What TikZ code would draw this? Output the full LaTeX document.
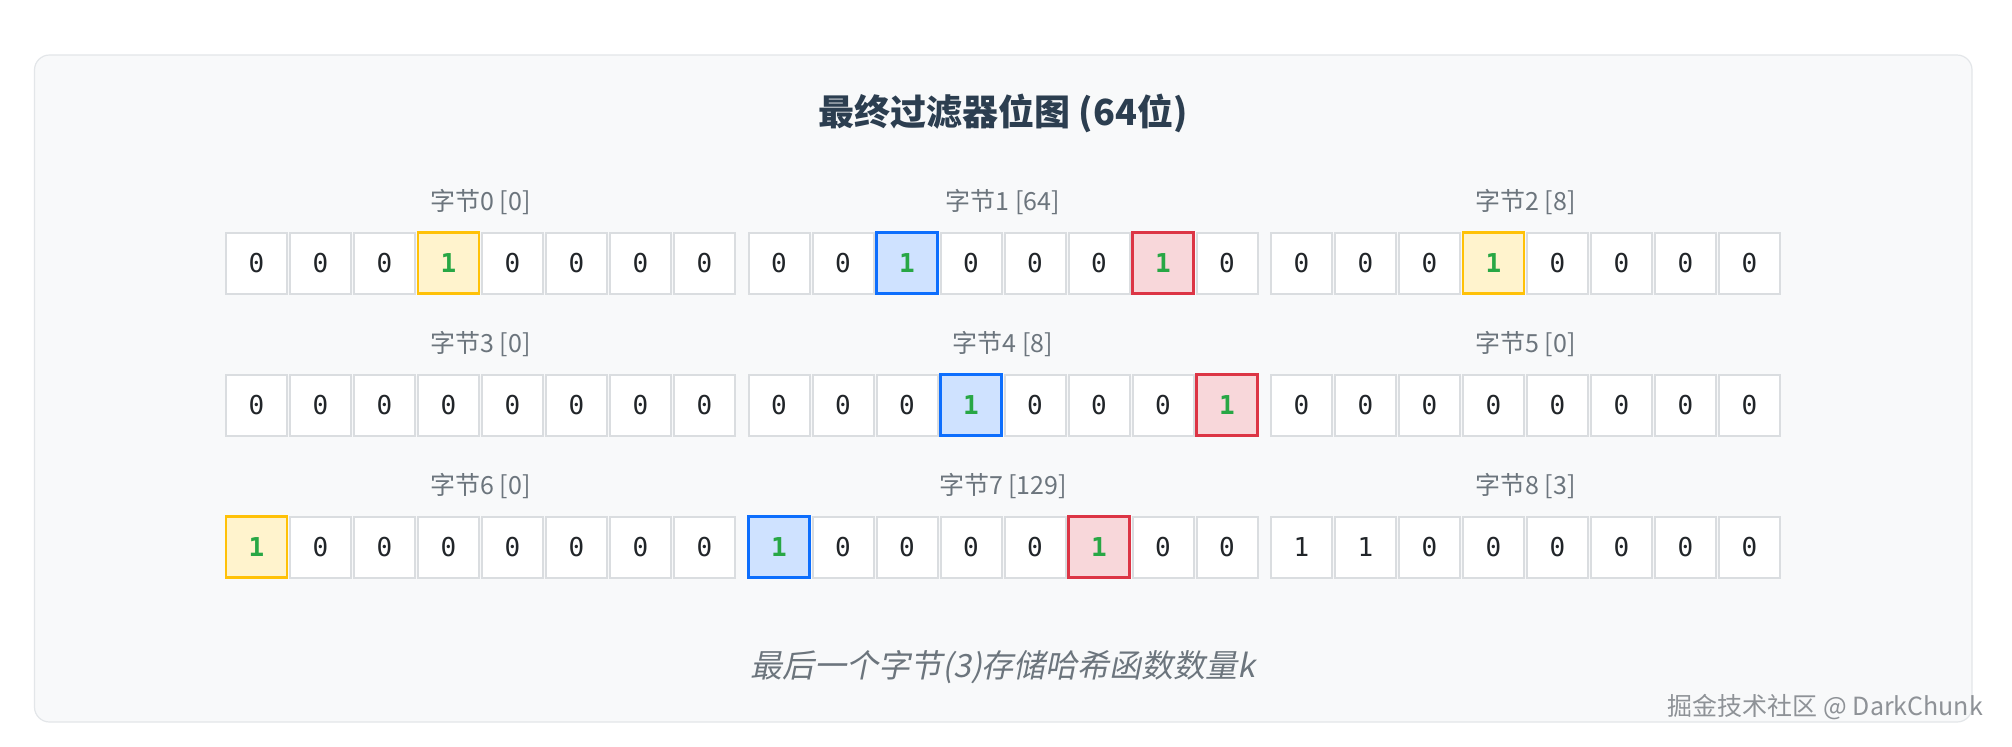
\documentclass[tikz,border=0pt]{standalone}
\usepackage{fontspec}
\setmainfont{Noto Sans CJK SC}
\newfontfamily\notefont{Noto Sans CJK SC}[FakeSlant=0.2]
\newfontfamily\bitfont{DejaVu Sans Mono}

\definecolor{panelbg}{HTML}{F8F9FA}
\definecolor{panelline}{HTML}{E3E6E9}
\definecolor{cellline}{HTML}{DADDE0}
\definecolor{bittext}{HTML}{212529}
\definecolor{titletext}{HTML}{2C3E50}
\definecolor{labeltext}{HTML}{6C757D}
\definecolor{hitgreen}{HTML}{28A745}
\definecolor{yfill}{HTML}{FFF3CD}
\definecolor{yline}{HTML}{FFC107}
\definecolor{bfill}{HTML}{CFE2FF}
\definecolor{bline}{HTML}{0D6EFD}
\definecolor{rfill}{HTML}{F8D7DA}
\definecolor{rline}{HTML}{DC3545}
\definecolor{marktext}{HTML}{8E9297}

\begin{document}
\begin{tikzpicture}[x=0.5pt, y=-0.5pt,
    bitcell/.style={draw=cellline, fill=white, line width=1pt, minimum size=30.5pt, inner sep=0pt,
        text=bittext, font=\bitfont\fontsize{13}{15}\selectfont},
    hitcell/.style={bitcell, line width=1.2pt, text=hitgreen, font=\bitfont\bfseries\fontsize{13}{15}\selectfont},
    bit 0/.style={bitcell, node contents=0},
    bit 1/.style={bitcell, node contents=1},
    bit y/.style={hitcell, draw=yline, fill=yfill, node contents=1},
    bit b/.style={hitcell, draw=bline, fill=bfill, node contents=1},
    bit r/.style={hitcell, draw=rline, fill=rfill, node contents=1},
    bytelabel/.style={text=labeltext, font=\fontsize{12.5}{14}\selectfont}]
    \useasboundingbox (0,0) rectangle (2012,746);
    \fill[white] (0,0) rectangle (2012,746);

    % Panel
    \draw[panelline, fill=panelbg, line width=0.6pt, rounded corners=7.5pt] (34.5,55) rectangle (1972,722);

    % Title
    \node[text=titletext, font=\bfseries\fontsize{18}{21}\selectfont] (title) at (1003,113) {最终过滤器位图 (64位)};

    % Bytes: number / value / bits
    \foreach \b/\val/\bits in {0/0/{0,0,0,y,0,0,0,0}, 1/64/{0,0,b,0,0,0,r,0}, 2/8/{0,0,0,y,0,0,0,0},
                               3/0/{0,0,0,0,0,0,0,0}, 4/8/{0,0,0,b,0,0,0,r}, 5/0/{0,0,0,0,0,0,0,0},
                               6/0/{y,0,0,0,0,0,0,0}, 7/129/{b,0,0,0,0,r,0,0}, 8/3/{1,1,0,0,0,0,0,0}} {
        \pgfmathsetmacro{\bx}{225.5 + mod(\b,3)*522.5}
        \pgfmathsetmacro{\by}{232 + floor(\b/3)*142}
        \node[bytelabel] (lab\b) at (\bx+255,\by-30) {字节\b{} [\val]};
        \foreach \v [count=\i from 0] in \bits
            \node[bit \v, name=cell\b-\i, at={(\bx+31+\i*64,\by+31)}];
    }

    % Note
    \node[text=labeltext, font=\notefont\fontsize{16}{19}\selectfont] (note) at (1003,667) {最后一个字节(3)存储哈希函数数量k};

    % Watermark
    \node[text=marktext, font=\fontsize{12.5}{14}\selectfont, anchor=east] (mark) at (1990,707) {掘金技术社区 @ DarkChunk};
\end{tikzpicture}
\end{document}
